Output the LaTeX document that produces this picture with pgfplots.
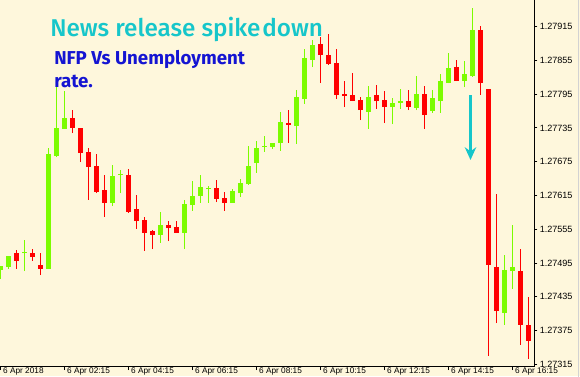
\documentclass[border=0pt]{standalone}
\usepackage{fontspec}
\setmainfont{Liberation Sans}
\newfontfamily\titlefont{Fira Sans Medium}
\newfontfamily\subfont{Fira Sans Bold}
\usepackage{pgfplots}
\usepackage{pgfplotstable}
\pgfplotsset{compat=1.18}
\usetikzlibrary{arrows.meta}
\definecolor{bgc}{HTML}{FEF7DC}
\definecolor{bullc}{HTML}{7CFC00}
\definecolor{bearc}{HTML}{FF0000}
\definecolor{titlec}{HTML}{16C6CA}
\definecolor{subc}{HTML}{1414D2}

\pgfplotstableread{
t o h l c
0 1.274826 1.274897 1.274666 1.274897
1 1.274879 1.275075 1.274844 1.275075
3 1.275128 1.275359 1.274808 1.275128
6 1.274844 1.276994 1.274844 1.276887
7 1.276852 1.278149 1.276834 1.277349
8 1.277332 1.278007 1.277332 1.277527
14 1.276017 1.276692 1.275963 1.276496
15 1.276514 1.276603 1.276194 1.276514
20 1.275448 1.275857 1.275306 1.275626
23 1.275484 1.276070 1.275199 1.275999
24 1.275981 1.276408 1.275875 1.276141
25 1.276141 1.276514 1.276017 1.276301
26 1.276265 1.276319 1.276017 1.276265
29 1.276017 1.276265 1.276017 1.276230
30 1.276194 1.276443 1.276123 1.276372
31 1.276354 1.277029 1.276337 1.276674
32 1.276727 1.277118 1.276550 1.276994
33 1.277012 1.277207 1.276923 1.277012
34 1.277012 1.277083 1.276976 1.277083
35 1.277083 1.277634 1.276941 1.277456
37 1.277385 1.278025 1.277065 1.277900
38 1.277865 1.278753 1.277776 1.278593
39 1.278558 1.278913 1.278433 1.278824
46 1.277634 1.278096 1.277332 1.277900
49 1.277722 1.277882 1.277420 1.277794
50 1.277794 1.278042 1.277687 1.277829
52 1.277705 1.278273 1.277669 1.277953
54 1.277651 1.278025 1.277616 1.277882
55 1.277829 1.278309 1.277616 1.278184
56 1.278149 1.278682 1.278149 1.278415
58 1.278184 1.278540 1.278078 1.278309
59 1.278273 1.279482 1.278256 1.279091
63 1.274062 1.275093 1.273849 1.274826
64 1.274808 1.275626 1.274489 1.274879
}\bull

\pgfplotstableread{
t o h l c
2 1.275128 1.275182 1.274844 1.274986
4 1.275128 1.275199 1.274986 1.275057
5 1.274915 1.275128 1.274737 1.274844
9 1.277527 1.277669 1.277260 1.277349
10 1.277349 1.277349 1.276745 1.276905
11 1.276923 1.276994 1.276070 1.276656
12 1.276674 1.276887 1.276194 1.276212
13 1.276248 1.276514 1.275768 1.276017
16 1.276514 1.276621 1.275839 1.275857
17 1.275910 1.276159 1.275555 1.275697
18 1.275715 1.275768 1.275164 1.275484
19 1.275519 1.275537 1.275199 1.275448
21 1.275626 1.275697 1.275341 1.275572
22 1.275590 1.275697 1.275484 1.275484
27 1.276283 1.276425 1.276034 1.276088
28 1.276106 1.276212 1.275875 1.276017
36 1.277438 1.277669 1.277083 1.277403
40 1.278842 1.278966 1.278149 1.278646
41 1.278646 1.279020 1.278469 1.278486
42 1.278504 1.278753 1.277865 1.277936
43 1.277953 1.278184 1.277722 1.277918
44 1.277936 1.278327 1.277829 1.277829
45 1.277847 1.277900 1.277491 1.277669
47 1.277936 1.278113 1.277687 1.277829
48 1.277847 1.278007 1.277438 1.277722
51 1.277829 1.278025 1.277669 1.277722
53 1.277953 1.278096 1.277332 1.277580
57 1.278433 1.278558 1.278184 1.278184
60 1.279091 1.279162 1.277936 1.278149
61 1.278042 1.278042 1.273298 1.274915
62 1.274879 1.276177 1.273884 1.274098
65 1.274808 1.275199 1.273494 1.273849
66 1.273849 1.274346 1.273245 1.273565
}\bear

\begin{document}
\begin{tikzpicture}[x=0.75pt,y=0.75pt]
\useasboundingbox (0,-9.33) rectangle (580,366.67);
\fill[bgc] (0,-9.33) rectangle (580,366.67);
\draw[gray!35, line width=0.75pt] (578.5,-10) -- (578.5,367);
\begin{axis}[
  at={(0,0)}, anchor=south west,
  scale only axis, width=400.5pt, height=275pt,
  xmin=-0.0625, xmax=66.6875,
  ymin=1.273108, ymax=1.279624,
  axis x line*=bottom, axis y line*=right,
  axis line style={black, line width=0.75pt},
  tick align=outside, major tick length=2.6pt,
  tick style={black, line width=0.75pt},
  scaled y ticks=false,
  xtick={0,8,16,24,32,40,48,56,64},
  xticklabels={6 Apr 2018, 6 Apr 02:15, 6 Apr 04:15, 6 Apr 06:15, 6 Apr 08:15, 6 Apr 10:15, 6 Apr 12:15, 6 Apr 14:15, 6 Apr 16:15},
  ytick={1.27315,1.27375,1.27435,1.27495,1.27555,1.27615,1.27675,1.27735,1.27795,1.27855,1.27915},
  yticklabels={1.27315,1.27375,1.27435,1.27495,1.27555,1.27615,1.27675,1.27735,1.27795,1.27855,1.27915},
  /pgf/number format/assume math mode=true,
  ticklabel style={text=black},
  xticklabel style={font=\fontsize{6.2}{7}\selectfont, anchor=north west, inner sep=0pt, xshift=1.8pt, yshift=1.7pt},
  yticklabel style={font=\fontsize{6.8}{8}\selectfont, anchor=west, inner sep=0pt, xshift=1.5pt},
]
\addplot[draw=none, no marks, forget plot,
  error bars/.cd, y dir=plus, y explicit, error mark=none,
  error bar style={line width=0.75pt, draw=bullc}]
  table[x=t, y=l, y error expr=\thisrow{h}-\thisrow{l}]{\bull};
\addplot[draw=none, no marks, forget plot,
  error bars/.cd, y dir=plus, y explicit, error mark=none,
  error bar style={line width=0.75pt, draw=bearc}]
  table[x=t, y=l, y error expr=\thisrow{h}-\thisrow{l}]{\bear};
\addplot[draw=none, no marks, forget plot,
  error bars/.cd, y dir=plus, y explicit, error mark=none,
  error bar style={line width=3.75pt, draw=bullc}]
  table[x=t, y=o, y error expr={max(\thisrow{c}-\thisrow{o},0.000018)}]{\bull};
\addplot[draw=none, no marks, forget plot,
  error bars/.cd, y dir=plus, y explicit, error mark=none,
  error bar style={line width=3.75pt, draw=bearc}]
  table[x=t, y=c, y error expr={max(\thisrow{o}-\thisrow{c},0.000018)}]{\bear};
\end{axis}
\node[anchor=base west, inner sep=0pt, text=titlec, font=\titlefont\fontsize{18.2}{20}\selectfont] at (50,330.67) {News release spike\kern1.5pt down};
\node[anchor=base west, inner sep=0pt, text=subc, font=\subfont\fontsize{14}{16}\selectfont] at (54,302.4) {NFP Vs Unemployment};
\node[anchor=base west, inner sep=0pt, text=subc, font=\subfont\fontsize{14}{16}\selectfont] at (54,278.7) {rate.};
\draw[titlec, line width=2.25pt, -{Stealth[length=9.5pt, width=8.5pt, inset=3pt]}] (470.5,271.67) -- (470.5,206.67);
\end{tikzpicture}
\end{document}
